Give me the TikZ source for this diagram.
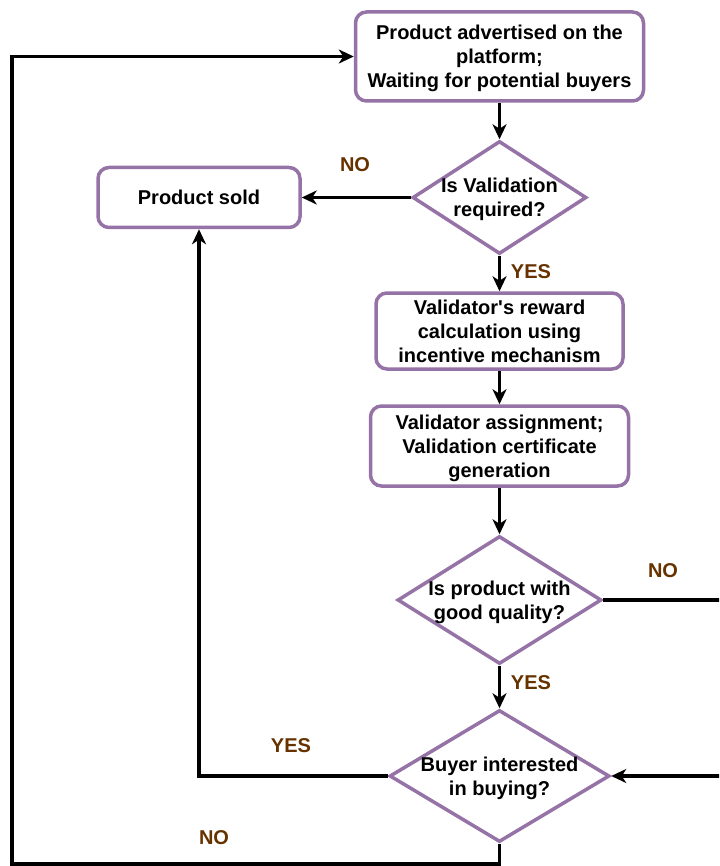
\documentclass[tikz,border=0pt]{standalone}
\usepackage{fontspec}
\setmainfont{Liberation Sans}
\usetikzlibrary{shapes.geometric,arrows.meta}
\definecolor{boxline}{HTML}{9673A6}
\definecolor{answer}{HTML}{663300}
\begin{document}
\begin{tikzpicture}[x=1pt,y=-1pt,
  font=\fontsize{20}{24}\selectfont\bfseries,
  stepbox/.style={draw=boxline, line width=3.5pt, rounded corners=11pt,
    fill=white, align=center, inner sep=0pt},
  decision/.style={diamond, draw=boxline, line width=3.5pt, fill=white,
    inner sep=0pt},
  % even vertical centring of two- and three-line texts
  twolines/.style={text height=42pt, text depth=4pt},
  threelines/.style={text height=66pt, text depth=4pt},
  flow/.style={line width=3.2pt, black,
    -{Stealth[length=15pt,width=14pt,inset=4.5pt]}},
  answertext/.style={text=answer, inner sep=0pt}]

  \clip (0,0) rectangle (719,866);
  \fill[white] (0,0) rectangle (719,866);

  % process boxes
  \node[stepbox, threelines, minimum width=288pt, minimum height=89pt] (advert) at (499.5,56.5)
    {Product advertised on the\\platform;\\Waiting for potential buyers};
  \node[stepbox, minimum width=202pt, minimum height=60pt] (sold) at (199,197.5)
    {Product sold};
  \node[stepbox, threelines, minimum width=247pt, minimum height=76pt] (reward) at (499.5,331)
    {Validator\textquotesingle s reward\\calculation using\\incentive mechanism};
  \node[stepbox, threelines, minimum width=258pt, minimum height=80pt] (assign) at (499.5,446)
    {Validator assignment;\\Validation certificate\\generation};

  % decisions
  \node[decision, minimum width=174pt, minimum height=113pt,
    label={[align=center, twolines]center:Is Validation\\required?}] (needval) at (499.5,197.5) {};
  \node[decision, minimum width=204pt, minimum height=128pt,
    label={[align=center, twolines]center:Is product with\\good quality?}] (quality) at (499.5,600) {};
  \node[decision, minimum width=220pt, minimum height=132pt,
    label={[align=center, twolines]center:Buyer interested\\in buying?}] (buyer) at (499.5,776) {};

  % helper points of the return paths
  \coordinate (loopcorner) at (12,864);
  \coordinate (rightside) at (760,600);

  % main flow
  \draw[flow] (advert.south) -- (needval.north);
  \draw[flow] (needval.west) -- (sold.east);
  \draw[flow] (needval.south) -- (reward.north);
  \draw[flow] (reward.south) -- (assign.north);
  \draw[flow] (assign.south) -- (quality.north);
  \draw[flow] (quality.south) -- (buyer.north);
  \draw[flow] (buyer.west) -| (sold.south);
  \draw[flow] (buyer.south) |- (loopcorner) |- (advert.west);
  \draw[flow] (quality.east) -- (rightside) |- (buyer.east);

  % answers on the branches
  \node[answertext] (l1) at (355,165) {NO};
  \node[answertext] (l2) at (531,272) {YES};
  \node[answertext] (l3) at (663,571) {NO};
  \node[answertext] (l4) at (531,683) {YES};
  \node[answertext] (l5) at (291,746) {YES};
  \node[answertext] (l6) at (214,838) {NO};
\end{tikzpicture}
\end{document}
